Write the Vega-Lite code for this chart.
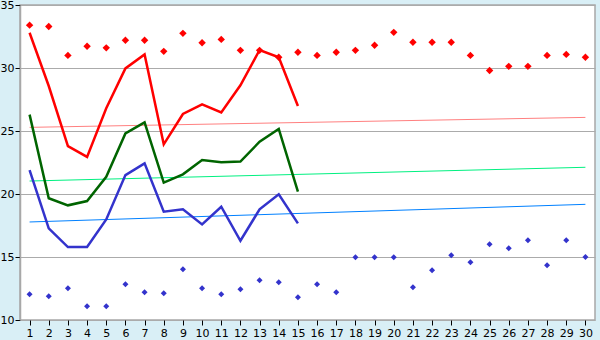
{
  "$schema": "https://vega.github.io/schema/vega-lite/v6.json",
  "width": 575,
  "height": 315,
  "autosize": {"type": "none"},
  "padding": {"left": 20, "top": 5, "right": 5, "bottom": 20},
  "background": "#D9EFF6",
  "config": {
    "view": {"fill": "white", "stroke": "#A8A8A8", "strokeWidth": 1.5},
    "axis": {"labelFont": "DejaVu Sans", "labelFontSize": 11, "labelColor": "black", "tickColor": "black", "title": null}
  },
  "datasets": {
    "days": [
      {"day": 1, "hi": 33.4, "lo": 12.04, "r": 32.8, "g": 26.3, "b": 21.9},
      {"day": 2, "hi": 33.3, "lo": 11.88, "r": 28.57, "g": 19.66, "b": 17.27},
      {"day": 3, "hi": 31.0, "lo": 12.52, "r": 23.8, "g": 19.1, "b": 15.79},
      {"day": 4, "hi": 31.72, "lo": 11.09, "r": 22.94, "g": 19.44, "b": 15.79},
      {"day": 5, "hi": 31.6, "lo": 11.09, "r": 26.8, "g": 21.37, "b": 17.98},
      {"day": 6, "hi": 32.2, "lo": 12.83, "r": 29.97, "g": 24.81, "b": 21.5},
      {"day": 7, "hi": 32.2, "lo": 12.2, "r": 31.08, "g": 25.69, "b": 22.43},
      {"day": 8, "hi": 31.32, "lo": 12.12, "r": 23.94, "g": 20.9, "b": 18.6},
      {"day": 9, "hi": 32.75, "lo": 14.02, "r": 26.35, "g": 21.56, "b": 18.78},
      {"day": 10, "hi": 32.0, "lo": 12.52, "r": 27.12, "g": 22.7, "b": 17.59},
      {"day": 11, "hi": 32.27, "lo": 12.04, "r": 26.48, "g": 22.52, "b": 18.99},
      {"day": 12, "hi": 31.4, "lo": 12.44, "r": 28.63, "g": 22.57, "b": 16.29},
      {"day": 13, "hi": 31.4, "lo": 13.15, "r": 31.43, "g": 24.15, "b": 18.78},
      {"day": 14, "hi": 30.85, "lo": 12.99, "r": 30.85, "g": 25.16, "b": 19.97},
      {"day": 15, "hi": 31.25, "lo": 11.8, "r": 26.98, "g": 20.18, "b": 17.67},
      {"day": 16, "hi": 31.0, "lo": 12.83},
      {"day": 17, "hi": 31.25, "lo": 12.2},
      {"day": 18, "hi": 31.4, "lo": 14.98},
      {"day": 19, "hi": 31.8, "lo": 14.98},
      {"day": 20, "hi": 32.83, "lo": 14.98},
      {"day": 21, "hi": 32.04, "lo": 12.6},
      {"day": 22, "hi": 32.04, "lo": 13.94},
      {"day": 23, "hi": 32.04, "lo": 15.13},
      {"day": 24, "hi": 31.0, "lo": 14.58},
      {"day": 25, "hi": 29.8, "lo": 16.01},
      {"day": 26, "hi": 30.13, "lo": 15.69},
      {"day": 27, "hi": 30.13, "lo": 16.33},
      {"day": 28, "hi": 31.0, "lo": 14.34},
      {"day": 29, "hi": 31.08, "lo": 16.33},
      {"day": 30, "hi": 30.85, "lo": 15.0}
    ],
    "trends": [
      {"day": 1, "rt": 25.29, "gt": 21.03, "bt": 17.78},
      {"day": 30, "rt": 26.08, "gt": 22.12, "bt": 19.18}
    ]
  },
  "encoding": {
    "x": {
      "field": "day", "type": "quantitative",
      "scale": {"domain": [0.5, 30.5], "nice": false, "zero": false},
      "axis": {"values": [1,2,3,4,5,6,7,8,9,10,11,12,13,14,15,16,17,18,19,20,21,22,23,24,25,26,27,28,29,30], "grid": false, "domain": false, "tickSize": 5, "labelPadding": 2, "labelFlush": false}
    }
  },
  "layer": [
    {
      "data": {"name": "trends"},
      "mark": {"type": "line", "color": "#FF8080", "strokeWidth": 1},
      "encoding": {
        "y": {"field": "rt", "type": "quantitative",
          "scale": {"domain": [10, 35], "nice": false, "zero": false},
          "axis": {"values": [10, 15, 20, 25, 30, 35], "grid": true, "gridColor": "#ABABAB", "gridWidth": 1, "domainColor": "#A8A8A8", "domainWidth": 1.5, "tickSize": 5, "labelPadding": 1}}
      }
    },
    {
      "data": {"name": "trends"},
      "mark": {"type": "line", "color": "#00F080", "strokeWidth": 1},
      "encoding": {"y": {"field": "gt", "type": "quantitative"}}
    },
    {
      "data": {"name": "trends"},
      "mark": {"type": "line", "color": "#0080FF", "strokeWidth": 1},
      "encoding": {"y": {"field": "bt", "type": "quantitative"}}
    },
    {
      "data": {"name": "days"},
      "transform": [{"filter": "datum.r != null"}],
      "mark": {"type": "line", "color": "#FF0000", "strokeWidth": 2.5},
      "encoding": {"y": {"field": "r", "type": "quantitative"}}
    },
    {
      "data": {"name": "days"},
      "transform": [{"filter": "datum.g != null"}],
      "mark": {"type": "line", "color": "#006400", "strokeWidth": 2.5},
      "encoding": {"y": {"field": "g", "type": "quantitative"}}
    },
    {
      "data": {"name": "days"},
      "transform": [{"filter": "datum.b != null"}],
      "mark": {"type": "line", "color": "#3333CC", "strokeWidth": 2.5},
      "encoding": {"y": {"field": "b", "type": "quantitative"}}
    },
    {
      "data": {"name": "days"},
      "mark": {"type": "point", "shape": "diamond", "filled": true, "color": "#FF0000", "size": 55, "opacity": 1},
      "encoding": {"y": {"field": "hi", "type": "quantitative"}}
    },
    {
      "data": {"name": "days"},
      "mark": {"type": "point", "shape": "diamond", "filled": true, "color": "#3333CC", "size": 36, "opacity": 1},
      "encoding": {"y": {"field": "lo", "type": "quantitative"}}
    }
  ]
}
